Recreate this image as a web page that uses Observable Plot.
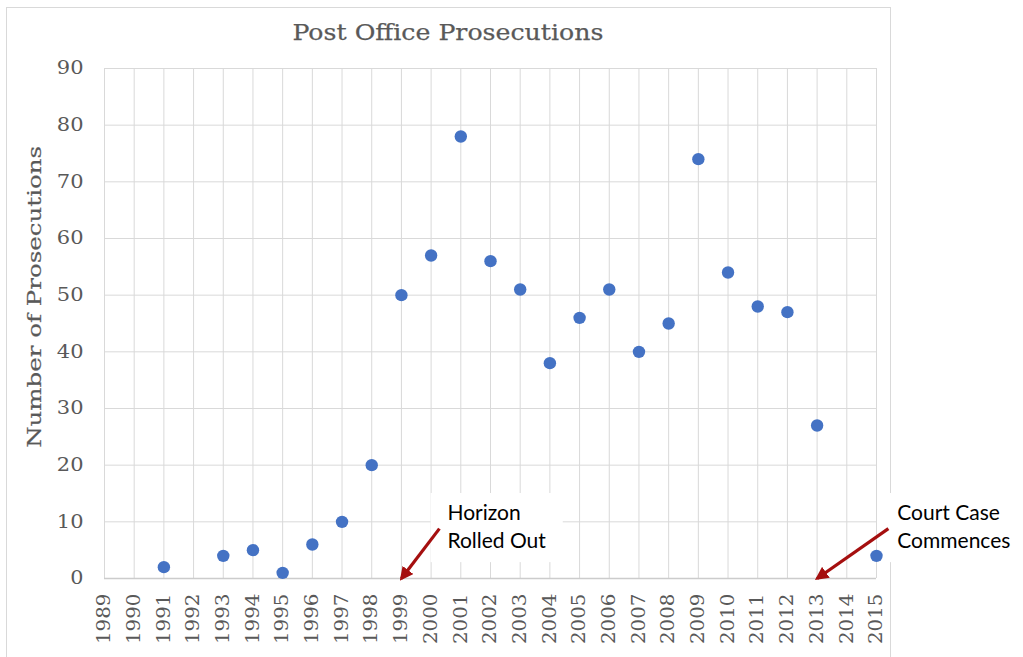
<!DOCTYPE html>
<html>
<head>
<meta charset="utf-8">
<script src="https://cdn.jsdelivr.net/npm/d3@7"></script>
<script src="https://cdn.jsdelivr.net/npm/@observablehq/plot@0.6"></script>
<style>
  html, body { margin: 0; padding: 0; background: #fff; }
  #wrap { position: relative; width: 1023px; height: 657px; overflow: hidden; }
  #border { position: absolute; left: 6px; top: 7px; width: 885px; height: 700px; border: 1px solid #d9d9d9; box-sizing: border-box; }
  #chart { position: absolute; left: 0; top: 0; }
</style>
</head>
<body>
<div id="wrap"><div id="border"></div><div id="chart"></div></div>
<script>
const years = [1991, 1993, 1994, 1995, 1996, 1997, 1998, 1999, 2000, 2001, 2002, 2003, 2004, 2005, 2006, 2007, 2008, 2009, 2010, 2011, 2012, 2013, 2015];
const prosecutions = [2, 4, 5, 1, 6, 10, 20, 50, 57, 78, 56, 51, 38, 46, 51, 40, 45, 74, 54, 48, 47, 27, 4];
const yearTicks = d3.range(1989, 2016);
const yTicks = [0, 10, 20, 30, 40, 50, 60, 70, 80, 90];
const title = "Post Office Prosecutions";
const yLabel = "Number of Prosecutions";
const annotationText = ["Horizon\nRolled Out", "Court Case\nCommences"];
const annotationYear = [1999, 2013];

// annotation layout (data-space anchors)
const annotations = [
  {text: annotationText[0], x: 2000.55, y: 13.7, ax1: 2000.28, ay1: 8.8, ax2: annotationYear[0], ay2: 0, bx1: 2000.0, bx2: 2004.45, by1: 2.8, by2: 15.0},
  {text: annotationText[1], x: 2015.7, y: 13.7, ax1: 2015.4, ay1: 8.8, ax2: annotationYear[1], ay2: 0, bx1: 2015.25, bx2: 2020, by1: 2.8, by2: 15.0}
];

const data = years.map((y, i) => ({year: y, value: prosecutions[i]}));
const serif = "'DejaVu Serif', serif";
const sans = "Lato, 'Open Sans', sans-serif";
const grey = "#595959";

const chart = Plot.plot({
  width: 1023,
  height: 657,
  marginLeft: 104,
  marginRight: 147,
  marginTop: 68,
  marginBottom: 79,
  style: {background: "transparent", fontFamily: serif, color: grey, overflow: "visible"},
  x: {domain: [1989, 2015], ticks: yearTicks, tickFormat: d => String(d)},
  y: {domain: [0, 90], ticks: yTicks},
  marks: [
    Plot.gridX(yearTicks, {stroke: "#d9d9d9", strokeOpacity: 1, strokeWidth: 1}),
    Plot.gridY(yTicks, {stroke: "#d9d9d9", strokeOpacity: 1, strokeWidth: 1}),
    Plot.ruleY([0], {stroke: "#cccccc", strokeWidth: 1.3}),
    Plot.axisY(yTicks, {tickSize: 0, tickPadding: 21, fontSize: 18, fill: grey, stroke: grey, strokeWidth: 0.35, label: null}),
    Plot.axisX(yearTicks, {tickSize: 0, tickPadding: 15, tickRotate: -90, fontSize: 18, fill: grey, stroke: grey, strokeWidth: 0.3, label: null, tickFormat: d => String(d)}),
    Plot.dot(data, {x: "year", y: "value", r: 6.2, fill: "#4472C4", stroke: "none"}),
    Plot.rect(annotations, {x1: "bx1", x2: "bx2", y1: "by1", y2: "by2", fill: "white"}),
    Plot.text(annotations, {x: "x", y: "y", text: "text", textAnchor: "start", lineAnchor: "top", lineHeight: 1.3, fontSize: 21, fontFamily: sans, fill: "#000"}),
    Plot.link(annotations, {x1: "ax1", y1: "ay1", x2: "ax2", y2: "ay2", stroke: "#a50f0f", strokeWidth: 3.2}),
    Plot.text([title], {x: () => 2000.566, y: () => 96.3, fontSize: 23, fontFamily: serif, fill: grey, stroke: grey, strokeWidth: 0.25}),
    Plot.text([yLabel], {x: () => 1986.68, y: () => 49.7, rotate: -90, fontSize: 18, fontFamily: serif, fill: grey, stroke: grey, strokeWidth: 0.2})
  ]
});

// arrowhead marker for annotation links
const svg = d3.select(chart);
const defs = svg.insert("defs", ":first-child");
defs.append("marker")
  .attr("id", "ahead").attr("viewBox", "0 0 10 10").attr("refX", 8).attr("refY", 5)
  .attr("markerWidth", 4.2).attr("markerHeight", 4.2).attr("orient", "auto")
  .append("path").attr("d", "M0,0L10,5L0,10z").attr("fill", "#a50f0f");
svg.selectAll('g[aria-label="link"] path').attr("marker-end", "url(#ahead)");

// match the wide typewriter-style text widths of the reference
svg.selectAll("text").each(function() {
  if (this.querySelector("tspan")) return;
  const t = this.textContent;
  let len = null;
  if (t === title) len = 311;
  else if (t === yLabel) len = 302;
  else if (/^\d{4}$/.test(t)) len = 50.6;
  else if (/^\d{2}$/.test(t)) len = 26.7;
  else if (/^\d$/.test(t)) len = 13.2;
  if (len) { this.setAttribute("textLength", len); this.setAttribute("lengthAdjust", "spacingAndGlyphs"); }
});

document.getElementById("chart").appendChild(chart);
</script>
</body>
</html>
